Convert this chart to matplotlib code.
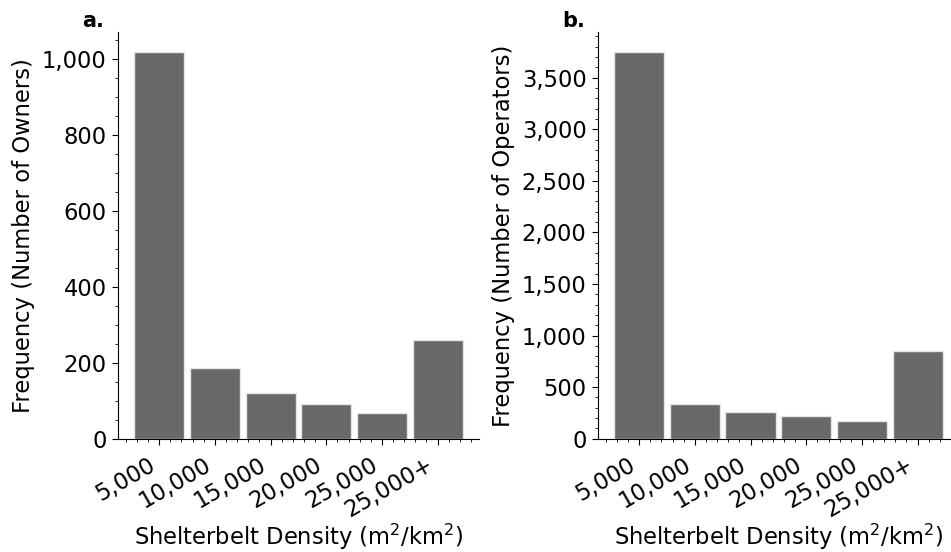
import numpy as np
import matplotlib
matplotlib.use("Agg")
import matplotlib.pyplot as plt
from matplotlib.ticker import AutoMinorLocator, StrMethodFormatter

# density bins shared by both panels
bins = ["5,000", "10,000", "15,000", "20,000", "25,000", "25,000+"]

# a. landowners, b. operators
owners = [1020, 185, 120, 92, 67, 259]
operators = [3752, 336, 259, 217, 169, 848]

panels = [
    ("a.", owners, "Frequency (Number of Owners)"),
    ("b.", operators, "Frequency (Number of Operators)"),
]

fs = 16.3
fig = plt.figure(figsize=(9.51, 5.52), dpi=100)
lefts = [0.1238, 0.6285]

for left, (tag, counts, ylabel) in zip(lefts, panels):
    ax = fig.add_axes([left, 0.2053, 0.380, 0.736])
    x = np.arange(len(bins))
    ax.bar(x, counts, width=0.9, color="#696969", edgecolor="#e6e6e6", linewidth=1)

    ax.set_xticks(x)
    ax.set_xticklabels(bins, rotation=30, ha="right")
    ax.xaxis.set_minor_locator(AutoMinorLocator())
    ax.yaxis.set_minor_locator(AutoMinorLocator())
    ax.yaxis.set_major_formatter(StrMethodFormatter("{x:,.0f}"))
    ax.tick_params(which="major", labelsize=fs, length=4.5)
    ax.tick_params(axis="x", which="major", pad=6)
    ax.tick_params(which="minor", length=2.5)

    ax.spines["top"].set_visible(False)
    ax.spines["right"].set_visible(False)

    ax.set_ylabel(ylabel, fontsize=fs, labelpad=5)
    ax.set_xlabel("Shelterbelt Density (m$^2$/km$^2$)", fontsize=fs, labelpad=0)
    ax.text(-0.099, 1.013, tag, transform=ax.transAxes, fontsize=15,
            fontweight="bold", va="baseline", ha="left")

fig.savefig("out.png", dpi=100)
